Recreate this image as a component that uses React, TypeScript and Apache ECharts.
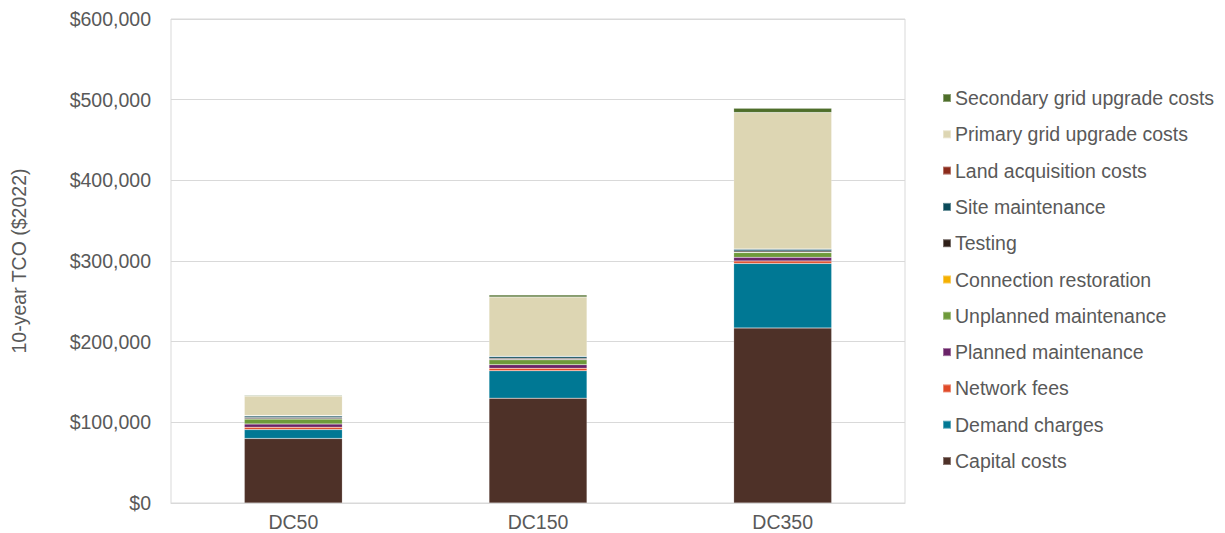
import React, { useEffect, useRef } from "react";
import * as echarts from "echarts";

const categories = ["DC50", "DC150", "DC350"];

const seriesNames = [
  "Capital costs",
  "Demand charges",
  "Network fees",
  "Planned maintenance",
  "Unplanned maintenance",
  "Connection restoration",
  "Testing",
  "Site maintenance",
  "Land acquisition costs",
  "Primary grid upgrade costs",
  "Secondary grid upgrade costs",
];

const capitalCosts = [80000, 130000, 217000];
const demandCharges = [11000, 34000, 80000];
const networkFees = [3000, 3000, 3000];
const plannedMaintenance = [4000, 4500, 4500];
const unplannedMaintenance = [6000, 6000, 6000];
const connectionRestoration = [500, 500, 500];
const testing = [1500, 1500, 1500];
const siteMaintenance = [2000, 2000, 2000];
const landAcquisition = [500, 500, 500];
const primaryGridUpgrade = [24000, 73500, 169000];
const secondaryGridUpgrade = [1000, 2500, 5500];

const seriesValues = [
  capitalCosts,
  demandCharges,
  networkFees,
  plannedMaintenance,
  unplannedMaintenance,
  connectionRestoration,
  testing,
  siteMaintenance,
  landAcquisition,
  primaryGridUpgrade,
  secondaryGridUpgrade,
];

const seriesColors = [
  "#4e3128",
  "#007894",
  "#e04a28",
  "#6a2368",
  "#6e9a3a",
  "#f5b000",
  "#2e1f18",
  "#0b4a5a",
  "#8b2a1a",
  "#ddd6b3",
  "#4e6e2a",
];

const yTicks = [0, 100000, 200000, 300000, 400000, 500000, 600000];

const fontFamily = "'Liberation Sans', Arial, Helvetica, sans-serif";
const textColor = "#595959";
const fontSize = 19.5;

export default function App() {
  const ref = useRef<HTMLDivElement>(null);

  useEffect(() => {
    if (!ref.current) return;
    const chart = echarts.init(ref.current, undefined, { renderer: "svg" });
    chart.setOption({
      animation: false,
      backgroundColor: "#ffffff",
      grid: {
        left: 171,
        right: 320,
        top: 19,
        bottom: 30,
        outerBoundsMode: "none",
        containLabel: false,
        show: true,
        borderColor: "#d9d9d9",
        borderWidth: 1,
      },
      legend: {
        orient: "vertical",
        left: 937,
        top: 83,
        itemWidth: 8,
        itemHeight: 8,
        itemGap: 16.3,
        icon: "rect",
        data: [...seriesNames].reverse(),
        textStyle: {
          fontFamily,
          fontSize,
          lineHeight: 20,
          color: textColor,
          padding: [0, 0, 0, -1],
        },
      },
      xAxis: {
        type: "category",
        data: categories,
        axisLine: { show: true, lineStyle: { color: "#d9d9d9" } },
        axisTick: { show: false },
        axisLabel: {
          fontFamily,
          fontSize,
          color: textColor,
          margin: 9,
        },
      },
      yAxis: {
        type: "value",
        min: yTicks[0],
        max: yTicks[yTicks.length - 1],
        interval: 100000,
        name: "10-year TCO ($2022)",
        nameLocation: "middle",
        nameGap: 142,
        nameRotate: 90,
        nameTextStyle: { fontFamily, fontSize, color: textColor },
        axisLine: { show: false },
        axisTick: { show: false },
        splitLine: { lineStyle: { color: "#d9d9d9", width: 1 } },
        axisLabel: {
          fontFamily,
          fontSize,
          color: textColor,
          margin: 20,
          formatter: (v: number) => "$" + v.toLocaleString("en-US"),
        },
      },
      series: seriesNames.map((name, i) => ({
        name,
        type: "bar",
        stack: "tco",
        barWidth: 98,
        data: seriesValues[i],
        itemStyle: {
          color: seriesColors[i],
          borderColor: "rgba(255,255,255,0.35)",
          borderWidth: 0.5,
        },
      })),
    });
    return () => chart.dispose();
  }, []);

  return (
    <div
      ref={ref}
      style={{ position: "absolute", left: 0, top: 0, width: 1225, height: 533 }}
    />
  );
}
